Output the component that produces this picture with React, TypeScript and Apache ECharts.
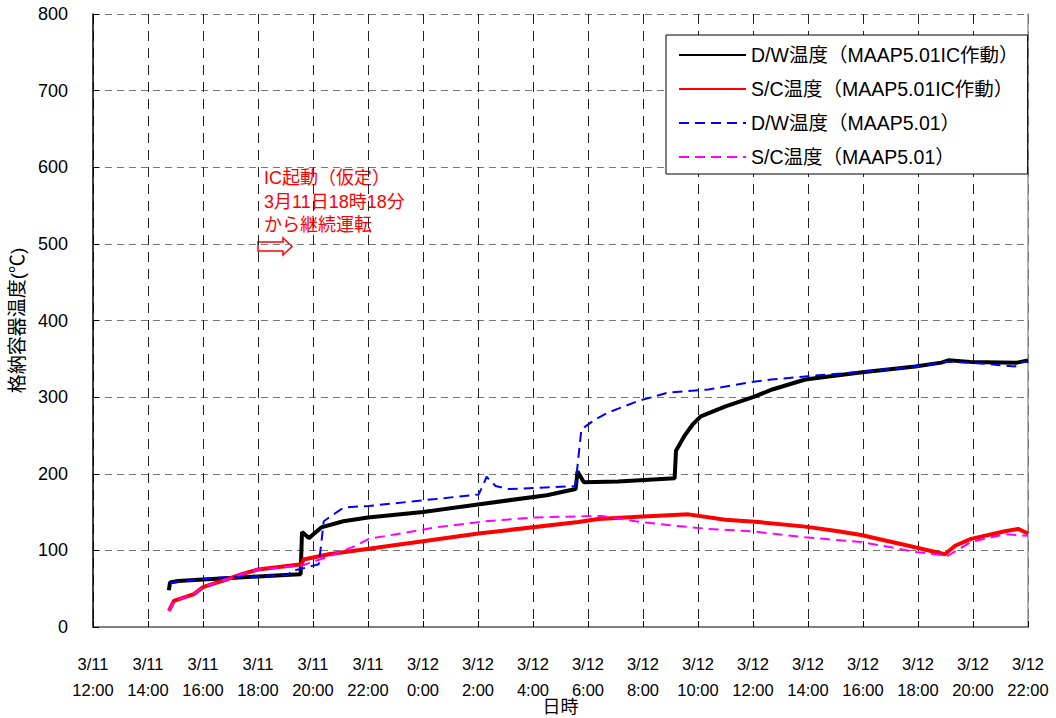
import React, { useEffect, useRef } from "react";
import * as echarts from "echarts";

// hours counted from 3/11 0:00
const X_MIN = 12;
const X_MAX = 46;
const X_STEP = 2;
const Y_MIN = 0;
const Y_MAX = 800;
const Y_STEP = 100;

const SERIES_NAMES = [
  "D/W温度（MAAP5.01IC作動）",
  "S/C温度（MAAP5.01IC作動）",
  "D/W温度（MAAP5.01）",
  "S/C温度（MAAP5.01）",
];

const DW_IC: [number, number][] = [
  [14.76, 48], [14.8, 58], [15.1, 60], [16, 62], [17, 64], [18, 66], [19, 68], [19.55, 69],
  [19.6, 124], [19.85, 116], [20.3, 130], [21.1, 138], [22, 143], [24, 150], [26, 160],
  [28.5, 172], [29.55, 180], [29.62, 203], [29.85, 189], [31.1, 190], [33.15, 194],
  [33.2, 230], [33.5, 249], [33.8, 264], [34.1, 275], [35, 288], [36, 300], [36.7, 310],
  [37.9, 323], [39.9, 332], [41.9, 340], [42.85, 345], [43.1, 348], [43.9, 346],
  [45.6, 345], [46, 348],
];

const SC_IC: [number, number][] = [
  [14.76, 21], [14.94, 34], [15.67, 43], [16, 52], [16.5, 58], [16.94, 63], [17.5, 70],
  [18, 75], [19.59, 82], [19.66, 88], [20.57, 95], [22.03, 102], [24, 112], [26.02, 122],
  [29.65, 137], [30.38, 141], [31.83, 144], [33.65, 147], [34.99, 140], [36.19, 137],
  [37.9, 131], [39.1, 125], [39.93, 120], [41.89, 104], [42.98, 95], [43.35, 106],
  [43.93, 115], [45.16, 125], [45.64, 128], [46, 122],
];

const DW_BASE: [number, number][] = [
  [14.8, 58], [16.4, 64], [17.67, 66], [19.12, 68], [19.19, 73], [19.59, 76], [20.21, 82],
  [20.32, 115], [20.39, 138], [20.75, 147], [21.12, 156], [22.03, 158], [24.46, 167],
  [26.02, 173], [26.2, 186], [26.31, 196], [26.64, 184], [27.11, 180], [29.54, 184],
  [29.76, 258], [30.27, 271], [30.74, 280], [31.83, 295], [32.92, 306], [34.38, 310],
  [35.83, 319], [36.66, 323], [37.9, 327], [39.93, 333], [41.89, 340], [42.98, 346],
  [43.93, 345], [45.53, 340], [45.71, 346], [46, 346],
];

const SC_BASE: [number, number][] = [
  [14.76, 21], [14.94, 34], [15.67, 43], [16, 52], [16.5, 58], [16.94, 63], [17.5, 70],
  [18, 75], [19.59, 80], [20.57, 92], [21.55, 106], [22.03, 115], [24.46, 130],
  [26.28, 138], [28.09, 143], [30.49, 145], [31.72, 138], [32.92, 133], [34.38, 128],
  [35.94, 125], [37.9, 117], [39.93, 111], [41.02, 104], [41.89, 98], [42.84, 94],
  [43.09, 93], [43.93, 111], [45.16, 121], [46, 119],
];

const ANNOTATION_LINES = ["IC起動（仮定）", "3月11日18時18分", "から継続運転"];

const FONT = "'Liberation Sans', 'Noto Sans CJK JP', sans-serif";

function xLabel(v: number): string {
  const day = v < 24 ? "3/11" : "3/12";
  const h = v < 24 ? v : v - 24;
  return `${day}\n${h}:00`;
}

export default function App() {
  const ref = useRef<HTMLDivElement>(null);
  useEffect(() => {
    document.body.style.margin = "0";
    const chart = echarts.init(ref.current!, null, { renderer: "svg" });
    const option: any = {
      animation: false,
      backgroundColor: "#fff",
      grid: {
        left: 93,
        right: 28,
        top: 14,
        bottom: 91,
        containLabel: false,
        outerBoundsMode: "none",
      },
      xAxis: [
        {
          type: "value",
          min: X_MIN,
          max: X_MAX,
          interval: X_STEP,
          name: "日時",
          nameLocation: "middle",
          nameGap: 71,
          nameMoveOverlap: false,
          nameTextStyle: { fontSize: 18, color: "#000", fontFamily: FONT },
          axisLine: { show: true, lineStyle: { color: "#000", width: 1.5 } },
          axisTick: { show: true, inside: true, length: 6, lineStyle: { color: "#000" } },
          axisLabel: {
            formatter: xLabel,
            fontSize: 16.5,
            lineHeight: 26,
            color: "#000",
            fontFamily: FONT,
            margin: 24,
            showMinLabel: true,
            showMaxLabel: true,
          },
          splitLine: {
            show: true,
            lineStyle: { color: "#222", type: [10, 7], width: 1 },
          },
        },
        {
          type: "value",
          position: "top",
          min: X_MIN,
          max: X_MAX,
          interval: X_STEP,
          axisLine: { show: true, lineStyle: { color: "#999", width: 1.5 } },
          axisTick: { show: false },
          axisLabel: { show: false },
          splitLine: { show: false },
        },
      ],
      yAxis: [
        {
          type: "value",
          min: Y_MIN,
          max: Y_MAX,
          interval: Y_STEP,
          name: "格納容器温度(℃)",
          nameLocation: "middle",
          nameGap: 66,
          nameRotate: 90,
          nameTextStyle: { fontSize: 19, color: "#000", fontFamily: FONT },
          axisLine: { show: true, lineStyle: { color: "#000", width: 1.5 } },
          axisTick: { show: true, inside: true, length: 6, lineStyle: { color: "#000" } },
          axisLabel: { fontSize: 18, color: "#000", fontFamily: FONT, margin: 25 },
          splitLine: {
            show: true,
            lineStyle: { color: "#777", type: [7, 5], width: 1 },
          },
        },
        {
          type: "value",
          position: "right",
          min: Y_MIN,
          max: Y_MAX,
          interval: Y_STEP,
          axisLine: { show: true, lineStyle: { color: "#999", width: 1.5 } },
          axisTick: { show: false },
          axisLabel: { show: false },
          splitLine: { show: false },
        },
      ],
      legend: {
        orient: "vertical",
        left: 666,
        top: 35,
        align: "left",
        itemWidth: 67,
        itemHeight: 14,
        itemGap: 14,
        padding: [10, 9, 7, 12],
        borderColor: "#000",
        borderWidth: 1,
        backgroundColor: "#fff",
        itemStyle: { opacity: 0 },
        textStyle: { fontSize: 19.5, color: "#000", fontFamily: FONT, lineHeight: 20 },
        data: SERIES_NAMES,
      },
      series: [
        {
          name: SERIES_NAMES[0],
          type: "line",
          data: DW_IC,
          showSymbol: false,
          symbol: "none",
          lineStyle: { color: "#000", width: 4 },
          itemStyle: { color: "#000" },
        },
        {
          name: SERIES_NAMES[1],
          type: "line",
          data: SC_IC,
          showSymbol: false,
          symbol: "none",
          lineStyle: { color: "#ff0000", width: 4 },
          itemStyle: { color: "#ff0000" },
        },
        {
          name: SERIES_NAMES[2],
          type: "line",
          data: DW_BASE,
          showSymbol: false,
          symbol: "none",
          lineStyle: { color: "#0000ff", width: 2, type: [10, 6] },
          itemStyle: { color: "#0000ff" },
        },
        {
          name: SERIES_NAMES[3],
          type: "line",
          data: SC_BASE,
          showSymbol: false,
          symbol: "none",
          lineStyle: { color: "#ff00ff", width: 2, type: [10, 6] },
          itemStyle: { color: "#ff00ff" },
        },
      ],
      graphic: [
        ...ANNOTATION_LINES.map((t, i) => ({
          type: "text",
          left: 264,
          top: 169 + i * 23.5,
          style: { text: t, fontSize: 18, fill: "#ff0000", fontFamily: FONT },
        })),
        {
          type: "polygon",
          shape: {
            points: [
              [258, 242], [283, 242], [283, 238], [292, 246.5], [283, 255], [283, 251], [258, 251],
            ],
          },
          style: { fill: "#fff", stroke: "#ff0000", lineWidth: 1.5 },
        },
      ],
    };
    chart.setOption(option);
    return () => chart.dispose();
  }, []);
  return <div ref={ref} style={{ width: 1056, height: 718 }} />;
}
